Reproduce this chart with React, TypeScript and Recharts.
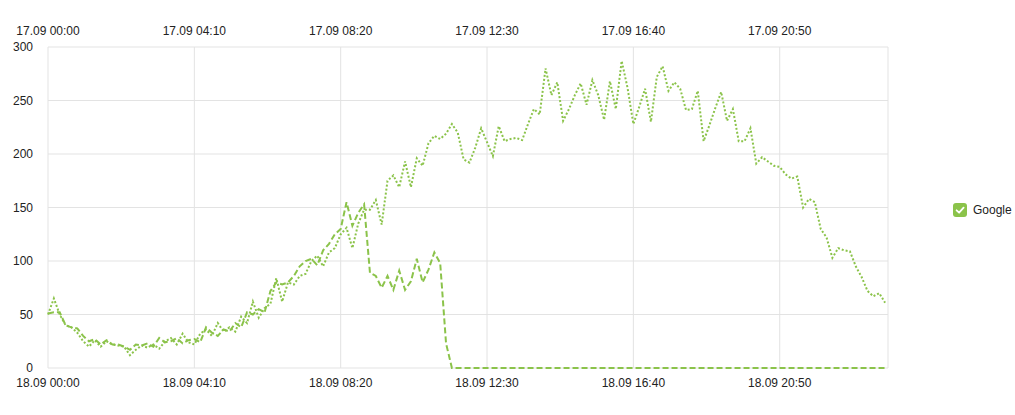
import React from 'react';
import { LineChart, Line, XAxis, YAxis, CartesianGrid, ReferenceLine } from 'recharts';

const tickMinutes = [0, 250, 500, 750, 1000, 1250];
const topTickLabels = ['17.09 00:00', '17.09 04:10', '17.09 08:20', '17.09 12:30', '17.09 16:40', '17.09 20:50'];
const bottomTickLabels = ['18.09 00:00', '18.09 04:10', '18.09 08:20', '18.09 12:30', '18.09 16:40', '18.09 20:50'];
const yTicks = [0, 50, 100, 150, 200, 250, 300];
const seriesName = 'Google';

// 17.09 (dotted), one value per 10 minutes
const google1709 = [
  50, 65, 50, 40, 38, 33, 25, 20, 26, 20,
  25, 22, 21, 20, 12, 17, 21, 19, 22, 18,
  25, 28, 22, 32, 24, 22, 32, 36, 30, 42,
  34, 38, 34, 48, 42, 62, 47, 56, 60, 84,
  62, 80, 78, 86, 88, 100, 105, 95, 108, 112,
  125, 131, 112, 135, 148, 148, 157, 134, 175, 180,
  169, 193, 169, 196, 189, 210, 217, 214, 219, 228,
  220, 195, 192, 206, 224, 211, 198, 226, 212, 214,
  215, 213, 228, 242, 237, 280, 255, 267, 231, 242,
  255, 266, 246, 269, 255, 232, 268, 242, 287, 262,
  228, 244, 261, 230, 272, 282, 259, 267, 261, 241,
  242, 259, 212, 227, 243, 258, 231, 242, 212, 212,
  224, 191, 197, 193, 189, 188, 181, 177, 179, 150,
  158, 155, 130, 122, 103, 112, 110, 109, 95, 85,
  72, 67, 70, 61,
];

// 18.09 (dashed), one value per 10 minutes
const google1809 = [
  51, 52, 52, 40, 38, 37, 30, 25, 27, 22,
  26, 22, 22, 20, 17, 22, 21, 23, 20, 28,
  24, 25, 28, 23, 26, 27, 24, 38, 33, 30,
  36, 34, 42, 38, 52, 50, 55, 52, 72, 80,
  78, 80, 86, 95, 100, 102, 96, 110, 116, 125,
  130, 155, 133, 145, 153, 89, 86, 75, 86, 73,
  91, 73, 81, 102, 80, 92, 108, 98, 23, 0,
  0, 0, 0, 0, 0, 0, 0, 0, 0, 0,
  0, 0, 0, 0, 0, 0, 0, 0, 0, 0,
  0, 0, 0, 0, 0, 0, 0, 0, 0, 0,
  0, 0, 0, 0, 0, 0, 0, 0, 0, 0,
  0, 0, 0, 0, 0, 0, 0, 0, 0, 0,
  0, 0, 0, 0, 0, 0, 0, 0, 0, 0,
  0, 0, 0, 0, 0, 0, 0, 0, 0, 0,
  0, 0, 0, 0,
];

const minutes = google1709.map((_, i) => i * 10);
const data = minutes.map((t, i) => ({ t, d17: google1709[i], d18: google1809[i] }));

const GREEN = '#8bc34a';
const GRID = '#e3e3e3';
const FONT = '"Liberation Sans", Arial, sans-serif';
const tickStyle = { fontSize: 12, fill: '#222', fontFamily: FONT };

const labelFor = (labels: string[]) => (v: number) => {
  const idx = tickMinutes.indexOf(v);
  return idx >= 0 ? labels[idx] : '';
};

export default function App() {
  return (
    <div style={{ position: 'absolute', left: 0, top: 0, width: 1015, height: 415, background: '#fff' }}>
      <LineChart width={1015} height={415} data={data} margin={{ top: 0, right: 127, bottom: 0, left: 0 }}>
        <CartesianGrid stroke={GRID} xAxisId="bottom" verticalValues={tickMinutes} />
        <XAxis
          xAxisId="top"
          orientation="top"
          dataKey="t"
          type="number"
          domain={[0, 1435]}
          ticks={tickMinutes}
          tickFormatter={labelFor(topTickLabels)}
          axisLine={false}
          tickLine={false}
          tickSize={0}
          tickMargin={12}
          height={47}
          tick={tickStyle}
          interval={0}
        />
        <XAxis
          xAxisId="bottom"
          orientation="bottom"
          dataKey="t"
          type="number"
          domain={[0, 1435]}
          ticks={tickMinutes}
          tickFormatter={labelFor(bottomTickLabels)}
          axisLine={false}
          tickLine={false}
          tickSize={0}
          tickMargin={10}
          height={47}
          tick={tickStyle}
          interval={0}
        />
        <YAxis
          type="number"
          domain={[0, 300]}
          ticks={yTicks}
          axisLine={false}
          tickLine={false}
          tickSize={0}
          tickMargin={15}
          width={48}
          tick={tickStyle}
          interval={0}
        />
        <ReferenceLine x={1435} xAxisId="bottom" stroke={GRID} />
        <Line
          xAxisId="bottom"
          type="linear"
          dataKey="d18"
          name={seriesName}
          stroke={GREEN}
          strokeWidth={2}
          strokeDasharray="6 3"
          dot={false}
          activeDot={false}
          isAnimationActive={false}
        />
        <Line
          xAxisId="top"
          type="linear"
          dataKey="d17"
          name={seriesName}
          stroke={GREEN}
          strokeWidth={2}
          strokeDasharray="2 2"
          dot={false}
          activeDot={false}
          isAnimationActive={false}
        />
      </LineChart>
      <div
        style={{
          position: 'absolute',
          left: 953,
          top: 203,
          display: 'flex',
          alignItems: 'center',
          fontFamily: FONT,
          fontSize: 12,
          color: '#222',
        }}
      >
        <svg width={14} height={14} style={{ display: 'block' }}>
          <rect x={0} y={0} width={14} height={14} rx={3} fill={GREEN} />
          <path d="M3.6 7.3 L6.1 9.7 L10.6 4.7" stroke="#fff" strokeWidth={1.8} fill="none" strokeLinecap="round" strokeLinejoin="round" />
        </svg>
        <span style={{ marginLeft: 6 }}>{seriesName}</span>
      </div>
    </div>
  );
}
